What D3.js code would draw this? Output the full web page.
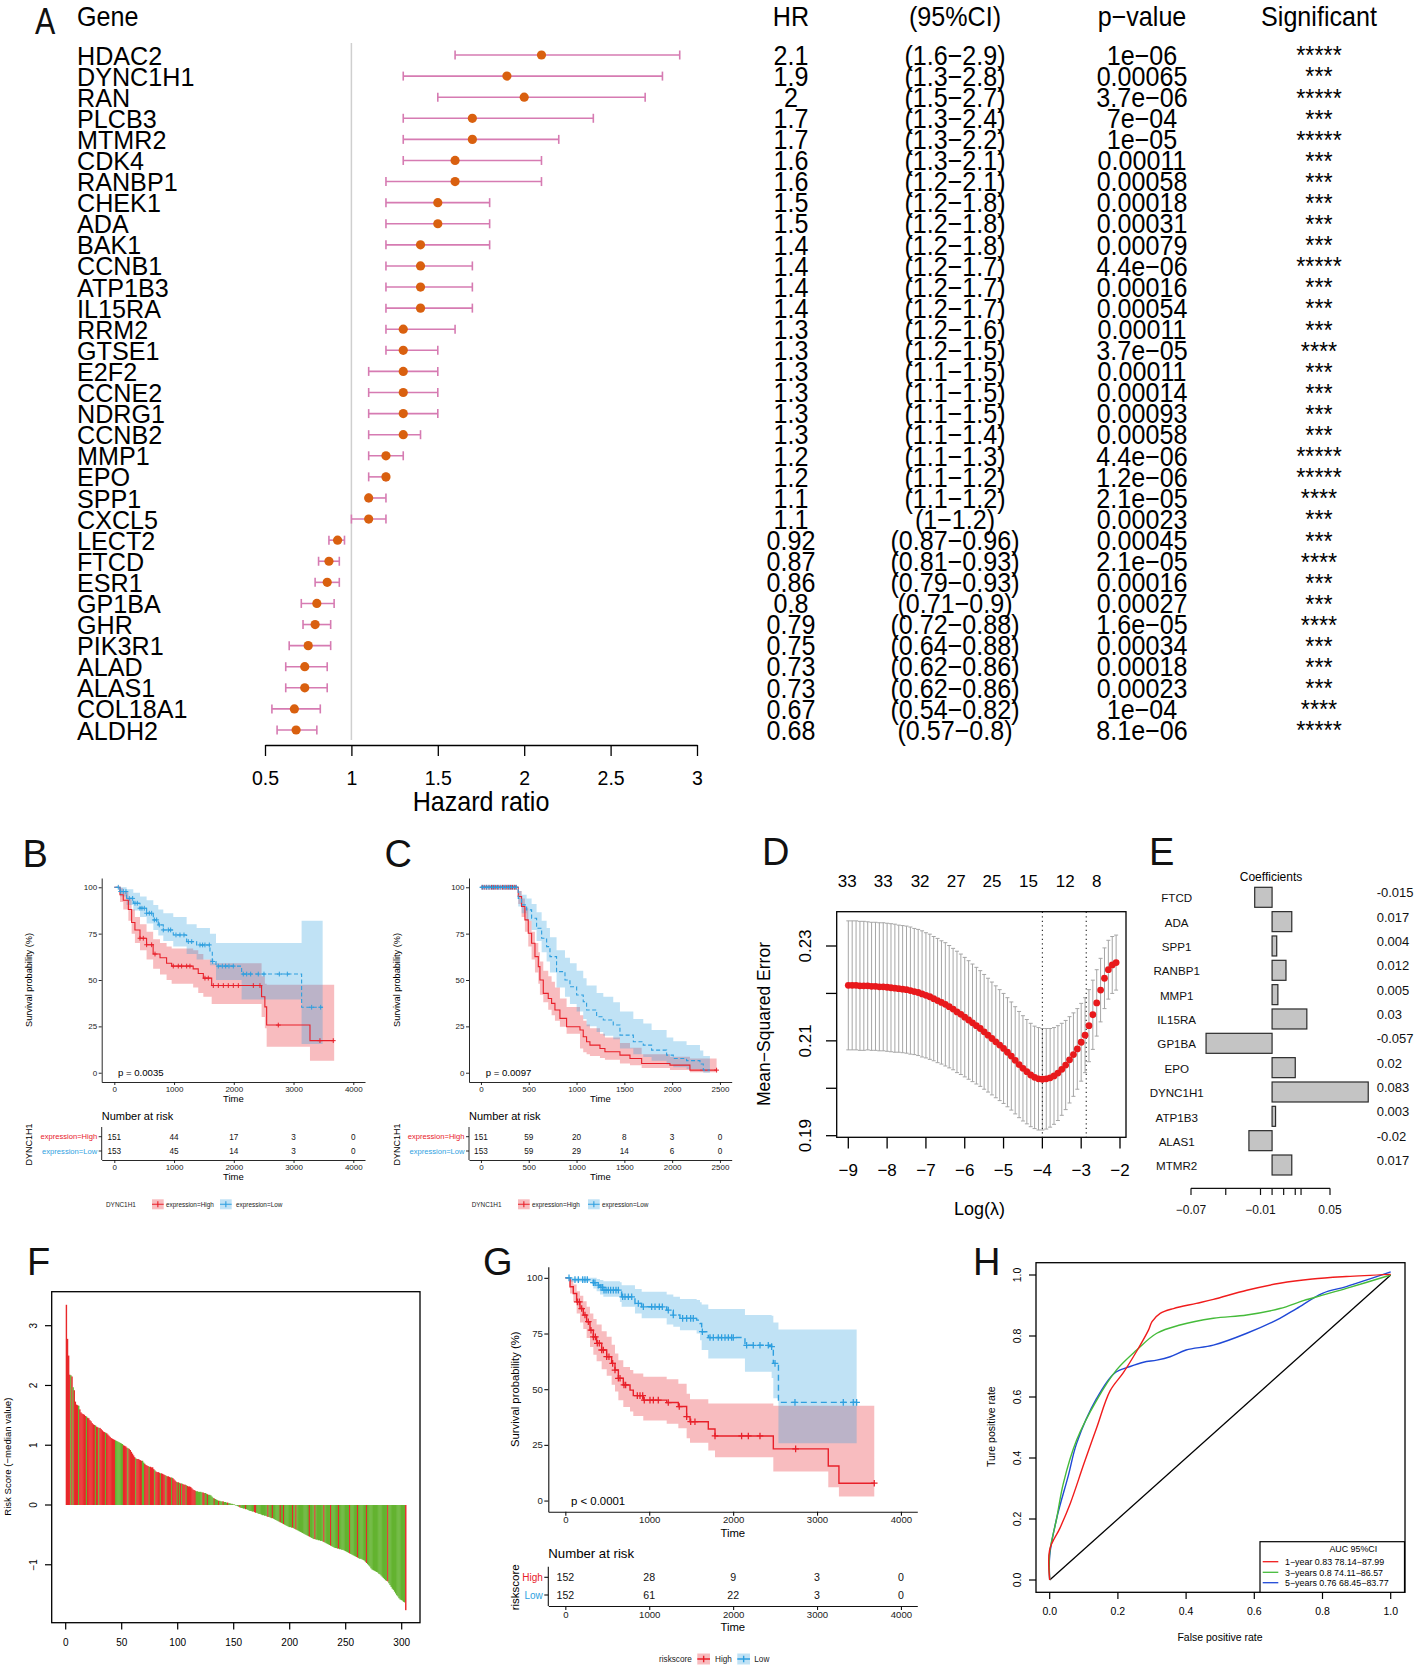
<!DOCTYPE html>
<html><head><meta charset="utf-8">
<script src="https://cdn.jsdelivr.net/npm/d3@7"></script>
<style>body{margin:0;background:#fff}svg{display:block}text{font-family:"Liberation Sans",Arial,Helvetica,sans-serif}</style>
</head><body><svg id="fig" width="1416" height="1669"></svg>
<script>
// ---------------- DATA ----------------
// Panel A (forest plot)
const genes=["HDAC2","DYNC1H1","RAN","PLCB3","MTMR2","CDK4","RANBP1","CHEK1","ADA","BAK1","CCNB1","ATP1B3","IL15RA","RRM2","GTSE1","E2F2","CCNE2","NDRG1","CCNB2","MMP1","EPO","SPP1","CXCL5","LECT2","FTCD","ESR1","GP1BA","GHR","PIK3R1","ALAD","ALAS1","COL18A1","ALDH2"];
const hr=[2.1,1.9,2,1.7,1.7,1.6,1.6,1.5,1.5,1.4,1.4,1.4,1.4,1.3,1.3,1.3,1.3,1.3,1.3,1.2,1.2,1.1,1.1,0.92,0.87,0.86,0.8,0.79,0.75,0.73,0.73,0.67,0.68];
const hrLow=[1.6,1.3,1.5,1.3,1.3,1.3,1.2,1.2,1.2,1.2,1.2,1.2,1.2,1.2,1.2,1.1,1.1,1.1,1.1,1.1,1.1,1.1,1,0.87,0.81,0.79,0.71,0.72,0.64,0.62,0.62,0.54,0.57];
const hrHigh=[2.9,2.8,2.7,2.4,2.2,2.1,2.1,1.8,1.8,1.8,1.7,1.7,1.7,1.6,1.5,1.5,1.5,1.5,1.4,1.3,1.2,1.2,1.2,0.96,0.93,0.93,0.9,0.88,0.88,0.86,0.86,0.82,0.8];
const pvals=["1e−06","0.00065","3.7e−06","7e−04","1e−05","0.00011","0.00058","0.00018","0.00031","0.00079","4.4e−06","0.00016","0.00054","0.00011","3.7e−05","0.00011","0.00014","0.00093","0.00058","4.4e−06","1.2e−06","2.1e−05","0.00023","0.00045","2.1e−05","0.00016","0.00027","1.6e−05","0.00034","0.00018","0.00023","1e−04","8.1e−06"];
const sig=["*****","***","*****","***","*****","***","***","***","***","***","*****","***","***","***","****","***","***","***","***","*****","*****","****","***","***","****","***","***","****","***","***","***","****","*****"];
const forestTicks=[0.5,1,1.5,2,2.5,3];

// Panel B (KM, DYNC1H1 in cohort 1)
const bHighSteps=[[0,100],[95,96],[150,93],[235,88],[290,81],[345,77],[430,72.5],[540,69],[650,64],[765,62],[875,59],[960,57.5],[1320,56],[1405,53.5],[1490,51],[1630,47],[2465,41],[2520,35.5],[2550,25.7],[3275,17.3]];
const bHighEnd=3680;
const bHighCI=[[0,100,100],[95,92,99.5],[150,88,97.5],[235,82,94],[290,75,88],[345,70,84],[430,66,80],[540,61,76],[650,56,72],[765,53,70],[875,50,68],[960,48,67],[1320,46,66],[1405,43,64],[1490,41,61],[1630,37,59],[2465,30,52],[2520,24,48],[2550,14,47.5],[3275,6.5,47.5]];
const bHighCens=[430,485,541,625,681,987,1071,1127,1211,1266,1517,1573,1657,1741,1825,1908,1992,2076,2327,2438,2745,3442,3665];
const bLowSteps=[[0,100],[95,97.7],[206,94],[318,91.4],[430,88.7],[541,86],[653,82.4],[736,79.7],[820,77],[987,74.3],[1211,70.7],[1378,68.9],[1601,65.3],[1640,60],[1702,57.5],[2131,53.2],[3135,35.3]];
const bLowEnd=3487;
const bLowCI=[[0,100,100],[95,95,100],[206,90.5,99],[318,87.5,97],[430,84,95],[541,80.5,93],[653,77,90.5],[736,74,88],[820,71,86],[987,68,84],[1211,64,80],[1378,61,78],[1601,58,75],[1702,50,70],[2131,39.5,70],[3135,15.5,82]];
const bLowCens=[67,106,151,195,251,307,346,385,430,463,502,541,586,625,670,709,753,820,904,943,1032,1099,1166,1239,1295,1434,1478,1517,1590,1646,1741,1808,1863,1919,1992,2159,2215,2282,2410,2505,2762,2896,3303,3454];
const bRiskTimes=[0,1000,2000,3000,4000];
const bRiskHigh=[151,44,17,3,0];
const bRiskLow=[153,45,14,3,0];

// Panel C (KM, DYNC1H1 in cohort 2)
const cHighSteps=[[0,100],[390,95],[425,89.6],[460,82.4],[495,75.2],[530,69.8],[565,62.6],[600,57.2],[617,50],[652,42.8],[704,40],[739,37.4],[774,33.8],[826,29.3],[896,24.8],[1036,23],[1070,19.4],[1105,16.7],[1140,14.9],[1245,13.1],[1297,11.3],[1454,9.5],[1559,7.7],[1681,5],[1977,4.1],[2186,1.4]];
const cHighEnd=2465;
const cHighCI=[[0,100,100],[390,91,98],[425,84,94],[460,76,89],[495,68,82],[530,61,76],[565,54,70],[600,48,65],[617,42,60],[652,38,55],[704,34,52],[739,31,49],[774,28,46],[826,24.8,40],[896,21,35.5],[1036,13,31],[1070,11,28],[1105,10,26],[1140,9,24],[1245,8,21],[1297,7,19],[1454,5,16],[1559,4,13.5],[1681,2.5,10],[1977,1.5,8.6],[2186,0.3,7.7]];
const cHighCens=[15,40,60,85,110,130,150,175,200,225,250,270,290,310,330,350,365,2465];
const cLowSteps=[[0,100],[390,94],[425,90.5],[478,87.8],[530,83.3],[582,77.9],[635,72.5],[687,68],[722,62.6],[791,54.5],[879,50],[931,46.4],[1001,41.9],[1070,38.3],[1105,33.8],[1210,30.2],[1280,28.4],[1384,25.7],[1454,20.3],[1594,16.7],[1698,14.9],[1785,12.2],[1942,9.5],[2012,7.7],[2151,6.5],[2291,4.7],[2326,1.4]];
const cLowEnd=2395;
const cLowCI=[[0,100,100],[390,89.6,98],[425,86,96],[478,82,94],[530,77,91],[582,71,86.5],[635,65,82],[687,60,78],[722,54,73],[791,46,66],[879,41,62],[931,37,59],[1001,33,55],[1070,29,51],[1105,25,47],[1210,22,43],[1280,20,41],[1384,18,38],[1454,13,33],[1594,10,29],[1698,8.5,26.5],[1785,6.5,23],[1942,4.5,19],[2012,3,17],[2151,2,15],[2291,0.8,12],[2326,0,9]];
const cLowCens=[10,30,55,75,95,120,140,165,185,210,235,255,280,300,320,345,370];
const cRiskTimes=[0,500,1000,1500,2000,2500];
const cRiskHigh=[151,59,20,8,3,0];
const cRiskLow=[153,59,29,14,6,0];

// Panel D (LASSO CV)
const lambdaD=[-9.0,-8.9,-8.8,-8.7,-8.6,-8.5,-8.4,-8.3,-8.2,-8.1,-8.0,-7.9,-7.8,-7.7,-7.6,-7.5,-7.4,-7.3,-7.2,-7.1,-7.0,-6.9,-6.8,-6.7,-6.6,-6.5,-6.4,-6.3,-6.2,-6.1,-6.0,-5.9,-5.8,-5.7,-5.6,-5.5,-5.4,-5.3,-5.2,-5.1,-5.0,-4.9,-4.8,-4.7,-4.6,-4.5,-4.4,-4.3,-4.2,-4.1,-4.0,-3.9,-3.8,-3.7,-3.6,-3.5,-3.4,-3.3,-3.2,-3.1,-3.0,-2.9,-2.8,-2.7,-2.6,-2.5,-2.4,-2.3,-2.2,-2.1];
const mseD=[.2217,.2217,.2217,.2216,.2216,.2216,.2215,.2215,.2214,.2214,.2213,.2212,.2211,.2210,.2209,.2208,.2206,.2204,.2202,.2199,.2196,.2193,.2189,.2185,.2181,.2177,.2172,.2167,.2161,.2156,.2150,.2144,.2138,.2132,.2126,.2119,.2112,.2105,.2098,.2091,.2084,.2076,.2068,.2059,.2050,.2042,.2035,.2028,.2023,.2020,.2019,.2020,.2022,.2026,.2032,.2040,.2049,.2060,.2071,.2083,.2097,.2112,.2132,.2155,.2180,.2207,.2232,.2250,.2260,.2265];
const seD=[.0136,.0136,.0136,.0136,.0136,.0135,.0135,.0135,.0135,.0135,.0135,.0135,.0135,.0134,.0134,.0134,.0134,.0133,.0133,.0133,.0132,.0132,.0131,.0131,.0130,.0130,.0129,.0128,.0128,.0127,.0126,.0125,.0124,.0123,.0122,.0121,.0120,.0119,.0118,.0117,.0116,.0115,.0114,.0113,.0112,.0111,.0110,.0109,.0108,.0108,.0107,.0106,.0104,.0102,.0100,.0097,.0094,.0091,.0088,.0085,.0082,.0079,.0076,.0073,.0070,.0067,.0064,.0062,.0060,.0058];
const dTopLambda=[-9.03,-8.1,-7.15,-6.22,-5.3,-4.36,-3.41,-2.6];
const dTopCount=["33","33","32","27","25","15","12","8"];
const dSelLambda=[-4,-2.87];
const dXTicks=[-9,-8,-7,-6,-5,-4,-3,-2];
const dYTicks=[0.19,0.20,0.21,0.22,0.23];
const dYLabels=[0.19,0.21,0.23];

// Panel E (coefficients)
const eGenes=["FTCD","ADA","SPP1","RANBP1","MMP1","IL15RA","GP1BA","EPO","DYNC1H1","ATP1B3","ALAS1","MTMR2"];
const eCoef=[-0.015,0.017,0.004,0.012,0.005,0.03,-0.057,0.02,0.083,0.003,-0.02,0.017];
const eTicks=[-0.07,-0.04,-0.01,0,0.01,0.02,0.025,0.05];
const eTickLabels=[-0.07,-0.01,0.05];

// Panel F (risk score distribution, sorted)
const fVals=[3.35,2.78,2.50,2.18,2.17,2.15,1.97,1.92,1.73,1.68,
1.67,1.66,1.60,1.55,1.53,1.52,1.51,1.49,1.48,1.46,
1.45,1.42,1.40,1.37,1.35,1.34,1.33,1.31,1.30,1.29,
1.29,1.27,1.25,1.23,1.22,1.21,1.20,1.18,1.16,1.14,
1.12,1.11,1.10,1.09,1.08,1.07,1.06,1.05,1.04,1.03,
1.02,1.00,0.99,0.98,0.96,0.95,0.94,0.92,0.89,0.86,
0.83,0.80,0.78,0.77,0.77,0.76,0.75,0.74,0.74,0.71,
0.69,0.67,0.66,0.65,0.64,0.64,0.63,0.63,0.60,0.58,
0.56,0.55,0.55,0.54,0.53,0.53,0.52,0.51,0.50,0.49,
0.48,0.48,0.47,0.46,0.46,0.45,0.43,0.41,0.39,0.38,
0.38,0.37,0.36,0.36,0.35,0.34,0.34,0.33,0.32,0.31,
0.31,0.30,0.28,0.26,0.25,0.24,0.23,0.23,0.22,0.22,
0.22,0.21,0.21,0.20,0.20,0.19,0.18,0.17,0.17,0.16,
0.14,0.12,0.11,0.10,0.09,0.08,0.07,0.07,0.06,0.06,
0.06,0.05,0.05,0.04,0.04,0.03,0.03,0.02,0.02,0.01,
0.01,0.00,-0.01,-0.02,-0.03,-0.04,-0.05,-0.05,-0.06,-0.06,
-0.07,-0.07,-0.08,-0.09,-0.10,-0.10,-0.11,-0.11,-0.12,-0.13,
-0.13,-0.14,-0.15,-0.15,-0.16,-0.17,-0.17,-0.18,-0.18,-0.19,
-0.20,-0.20,-0.21,-0.22,-0.22,-0.23,-0.24,-0.25,-0.26,-0.27,
-0.28,-0.29,-0.30,-0.31,-0.32,-0.33,-0.34,-0.35,-0.36,-0.37,
-0.37,-0.38,-0.38,-0.39,-0.40,-0.41,-0.42,-0.43,-0.44,-0.45,
-0.46,-0.47,-0.48,-0.49,-0.50,-0.51,-0.52,-0.53,-0.54,-0.55,
-0.56,-0.57,-0.57,-0.58,-0.58,-0.59,-0.59,-0.60,-0.60,-0.61,
-0.62,-0.63,-0.64,-0.65,-0.66,-0.67,-0.68,-0.69,-0.70,-0.71,
-0.72,-0.72,-0.73,-0.73,-0.74,-0.74,-0.75,-0.75,-0.76,-0.77,
-0.78,-0.79,-0.80,-0.81,-0.82,-0.83,-0.84,-0.85,-0.86,-0.87,
-0.88,-0.89,-0.90,-0.90,-0.91,-0.92,-0.93,-0.95,-0.97,-0.99,
-1.01,-1.03,-1.06,-1.08,-1.09,-1.10,-1.11,-1.12,-1.13,-1.15,
-1.16,-1.18,-1.20,-1.22,-1.24,-1.26,-1.27,-1.28,-1.31,-1.34,
-1.37,-1.40,-1.42,-1.45,-1.48,-1.51,-1.53,-1.56,-1.58,-1.59,
-1.60,-1.62,-1.63,-1.76];
// 1 = red (event), 0 = green, one char per bar
const fStatus=("1111010111 1011111101 1111110110 1111101111 1111000000 0111101111 1101111100 1111011110 1111011110 1111011110 "+
"1010111011 1111110000 0011001000 0010001000 1000100000 0000010000 1000000011 0000000000 1000100000 0100100000 "+
"0010010000 0000000100 0010000000 1000001000 0001000000 0001000000 1000000010 0000000000 0000000100 0000000000 0001").replace(/ /g,"");
const fXTicks=[0,50,100,150,200,250,300];
const fYTicks=[-1,0,1,2,3];

// Panel G (KM, risk score)
const gHighSteps=[[0,100],[56,96],[95,93],[135,89.2],[175,86.2],[214,83.3],[254,80.3],[294,76.5],[334,73.5],[373,70.6],[433,67.6],[493,64.6],[552,61.6],[592,58.6],[632,54.9],[691,51.9],[771,49.6],[810,47.1],[929,45.1],[1208,44],[1347,42.2],[1446,37.7],[1486,35.4],[1704,32.1],[1784,29],[2479,23.2],[3134,15.5],[3261,7.8]];
const gHighEnd=3682;
const gHighCI=[[0,100,100],[56,93,99],[95,89,97],[135,84,94],[175,80,92],[214,77,89.5],[254,73,87],[294,69,84],[334,65.5,81.5],[373,62.5,79],[433,59,76],[493,56,73.5],[552,52,70],[592,49,66],[632,45,63],[691,42,60],[771,40,58.6],[810,38,57],[929,36,55.6],[1208,34.5,54.5],[1347,32.5,52.5],[1446,28,48],[1486,26,45.5],[1704,22.5,43.6],[1784,19.4,43.6],[2479,13,42.6],[3134,6,42.6],[3261,1.8,42.6]];
const gHighCens=[143,167,195,234,274,306,334,358,381,405,433,453,493,520,564,592,632,652,699,719,858,890,922,941,1009,1049,1108,1227,1358,1446,1494,1545,1784,2101,2181,2320,2745,3682];
const gLowSteps=[[0,100],[56,99.2],[334,97.8],[373,96.7],[413,95.7],[453,94.5],[651,93.7],[671,91.5],[830,88.5],[910,87],[1208,85.5],[1287,83.3],[1366,81.8],[1565,81],[1605,79.5],[1625,75.8],[1704,73.2],[2141,69.7],[2459,69.1],[2479,61.6],[2540,44.1]];
const gLowEnd=3472;
const gLowCI=[[0,100,100],[56,98.2,100],[334,95.2,100],[373,94,99.5],[413,92.5,99],[453,91.5,98.5],[651,89.2,98],[671,87,96.7],[830,84,95],[910,81.8,93.7],[1208,79,92.5],[1287,78,91.5],[1366,76.5,90.5],[1565,75,90],[1605,72,89],[1625,67.6,88],[1704,63.8,86],[2141,57.8,83.3],[2459,55,83],[2479,45.9,80],[2540,25.7,76.8]];
const gLowCens=[44,115,155,207,234,262,334,353,393,425,445,461,485,512,540,572,604,632,683,711,751,791,870,930,1029,1069,1120,1156,1227,1287,1398,1446,1494,1525,1633,1724,1764,1823,1863,1903,1943,1982,2002,2161,2240,2320,2419,2459,2499,2737,3313,3432,3472];
const gRiskTimes=[0,1000,2000,3000,4000];
const gRiskHigh=[152,28,9,3,0];
const gRiskLow=[152,61,22,3,0];

// Panel H (time-dependent ROC)
const rocRed=[[0,0],[0,0.1],[0.03,0.17],[0.06,0.25],[0.1,0.38],[0.138,0.5],[0.177,0.62],[0.216,0.68],[0.255,0.75],[0.29,0.82],[0.3,0.847],[0.324,0.874],[0.363,0.89],[0.43,0.907],[0.48,0.92],[0.578,0.95],[0.675,0.973],[0.77,0.987],[0.87,0.995],[1,1.002]];
const rocGreen=[[0,0],[0,0.09],[0.02,0.2],[0.04,0.317],[0.079,0.459],[0.138,0.59],[0.196,0.689],[0.255,0.754],[0.314,0.809],[0.382,0.836],[0.48,0.858],[0.578,0.869],[0.675,0.89],[0.744,0.916],[0.8,0.934],[0.87,0.956],[1,1]];
const rocBlue=[[0,0],[0,0.08],[0.02,0.2],[0.055,0.344],[0.079,0.448],[0.138,0.596],[0.19,0.678],[0.236,0.7],[0.275,0.714],[0.314,0.721],[0.353,0.732],[0.4,0.754],[0.48,0.77],[0.578,0.809],[0.675,0.858],[0.724,0.89],[0.8,0.94],[0.87,0.962],[1,1.01]];
const rocLabels=["1−year 0.83 78.14−87.99","3−years 0.8 74.11−86.57","5−years 0.76 68.45−83.77"];
const hTicks=[0,0.2,0.4,0.6,0.8,1];

// ---------------- DRAWING ----------------
const FONT='"Liberation Sans", Arial, Helvetica, sans-serif';
const svg=d3.select("#fig");
svg.append("rect").attr("width",1416).attr("height",1669).attr("fill","#fff");
const colHigh="#E8202A", colLow="#2E9FDF";

function T(g,x,y,s,size,anchor,fill){return g.append("text").attr("x",x).attr("y",y).attr("font-size",size).attr("text-anchor",anchor||"start").attr("fill",fill||"#000").text(s);}
function CT(g,x,cy,s,size,anchor,fill){return T(g,x,cy+0.36*size,s,size,anchor,fill);}
function RT(g,cx,cy,s,size,fill){return g.append("text").attr("transform",`translate(${cx+0.36*size},${cy}) rotate(-90)`).attr("text-anchor","middle").attr("font-size",size).attr("fill",fill||"#000").text(s);}
function NT(g,x,cy,s,size,anchor,sx){return g.append("text").attr("transform",`translate(${x},${cy+0.36*size}) scale(${sx||0.93},1)`).attr("text-anchor",anchor||"start").attr("font-size",size).attr("fill","#000").text(s);}
function letter(x,base,s){svg.append("text").attr("x",x).attr("y",base).attr("font-family","'Open Sans', sans-serif").attr("font-size",38).attr("fill","#111").text(s);}

// ===== Panel A =====
(function(){
  const g=svg.append("g");
  g.append("text").attr("transform","translate(35,34) scale(0.95,1.15)").attr("font-size",32).attr("fill","#111").text("A");
  const fx=d3.scaleLinear().domain([0.5,3]).range([265,697]);
  const fy=d3.scalePoint().domain(genes).range([55,730]);
  NT(g,77,16,"Gene",27,"start");
  NT(g,791,16,"HR",27,"middle");
  NT(g,955,16,"(95%CI)",27,"middle");
  NT(g,1142,16,"p−value",27,"middle");
  NT(g,1319,16,"Significant",27,"middle");
  g.append("line").attr("x1",fx(1)).attr("x2",fx(1)).attr("y1",43).attr("y2",740).attr("stroke","#cfcfcf").attr("stroke-width",1.5);
  genes.forEach((gn,i)=>{
    const yy=fy(gn);
    g.append("line").attr("x1",fx(hrLow[i])).attr("x2",fx(hrHigh[i])).attr("y1",yy).attr("y2",yy).attr("stroke","#D67BB2").attr("stroke-width",1.6);
    [hrLow[i],hrHigh[i]].forEach(v=>g.append("line").attr("x1",fx(v)).attr("x2",fx(v)).attr("y1",yy-4.5).attr("y2",yy+4.5).attr("stroke","#D67BB2").attr("stroke-width",1.6));
    g.append("circle").attr("cx",fx(hr[i])).attr("cy",yy).attr("r",4.6).attr("fill","#D9600F");
    NT(g,77,yy,gn,26.5,"start",0.95);
    NT(g,791,yy,String(hr[i]),27,"middle");
    NT(g,955,yy,`(${hrLow[i]}−${hrHigh[i]})`,27,"middle");
    NT(g,1142,yy,pvals[i],27,"middle");
    NT(g,1319,yy,sig[i],26,"middle",0.9);
  });
  const ax=g.append("g").attr("transform","translate(0,745)")
    .call(d3.axisBottom(fx).tickValues(forestTicks).tickSize(11).tickSizeOuter(0).tickPadding(14).tickFormat(d=>String(d)));
  ax.select(".domain").attr("stroke","#000").attr("stroke-width",1.3);
  ax.selectAll(".tick line").attr("stroke","#000").attr("stroke-width",1.3);
  ax.selectAll(".tick text").attr("font-size",21).attr("font-family",FONT).attr("fill","#000").attr("transform","scale(0.93,1)");
  NT(g,481,801,"Hazard ratio",27,"middle");
})();

// ===== KM helper =====
function survAt(steps,t){let s=steps[0][1];for(const d of steps){if(d[0]<=t)s=d[1];else break;}return s;}
function styleAxis(a,size,sw){
  a.attr("font-family",FONT);
  a.select(".domain").attr("stroke","#111").attr("stroke-width",sw);
  a.selectAll(".tick line").attr("stroke","#111").attr("stroke-width",sw);
  a.selectAll(".tick text").attr("font-size",size).attr("fill","#222").attr("font-family",FONT);
}
function drawKM(p){
  const g=svg.append("g");
  const x=d3.scaleLinear().domain(p.xDom).range([p.x0,p.x1]);
  const y=d3.scaleLinear().domain([-5,105]).range([p.yb,p.yt]);
  const grs=[{d:p.hi,col:colHigh,dash:null},{d:p.lo,col:colLow,dash:p.dash}];
  grs.forEach(gr=>{
    const ci=gr.d.ci, last=ci[ci.length-1];
    const pts=ci.concat([[gr.d.end,last[1],last[2]]]);
    g.append("path").datum(pts).attr("d",d3.area().curve(d3.curveStepAfter).x(d=>x(d[0])).y0(d=>y(d[1])).y1(d=>y(d[2])))
      .attr("fill",gr.col).attr("fill-opacity",0.3).attr("stroke","none");
  });
  grs.forEach(gr=>{
    const st=gr.d.steps, last=st[st.length-1];
    const pts=st.concat([[gr.d.end,last[1]]]);
    g.append("path").datum(pts).attr("d",d3.line().curve(d3.curveStepAfter).x(d=>x(d[0])).y(d=>y(d[1])))
      .attr("fill","none").attr("stroke",gr.col).attr("stroke-width",p.lw).attr("stroke-dasharray",gr.dash);
    gr.d.cens.forEach(t=>{
      const s=survAt(st,t), cx=x(t), cy=y(s);
      g.append("path").attr("d",`M${cx-p.cs},${cy}H${cx+p.cs}M${cx},${cy-p.cs}V${cy+p.cs}`).attr("stroke",gr.col).attr("stroke-width",p.lw*0.9);
    });
  });
  const ax=g.append("g").attr("transform",`translate(0,${p.yb})`).call(d3.axisBottom(x).tickValues(p.xticks).tickSize(p.ts).tickSizeOuter(0).tickPadding(p.tp).tickFormat(d3.format("d")));
  styleAxis(ax,p.tf,p.sw);
  const ay=g.append("g").attr("transform",`translate(${p.x0},0)`).call(d3.axisLeft(y).tickValues([0,25,50,75,100]).tickSize(p.ts).tickSizeOuter(0).tickPadding(1.5).tickFormat(d3.format("d")));
  styleAxis(ay,p.tf,p.sw);
  CT(g,(p.x0+p.x1)/2,p.timeY,"Time",p.timeF,"middle");
  RT(g,p.ylabX,(p.yb+p.yt)/2,"Survival probability (%)",p.ylabF);
  CT(g,p.pX,y(0),p.pText,p.pF,"start");
  CT(g,p.x0,p.narY,"Number at risk",p.narF,"start");
  const rt=g.append("g");
  const ar=rt.append("g").attr("transform",`translate(0,${p.rAxisY})`).call(d3.axisBottom(x).tickValues(p.rTimes).tickSize(p.ts).tickSizeOuter(0).tickPadding(p.tp).tickFormat(d3.format("d")));
  styleAxis(ar,p.tf,p.sw);
  rt.append("line").attr("x1",p.x0).attr("x2",p.x0).attr("y1",p.rTop).attr("y2",p.rAxisY).attr("stroke","#111").attr("stroke-width",p.sw);
  [[p.rHigh,p.rRows[0],colHigh,p.rLab[0]],[p.rLow,p.rRows[1],colLow,p.rLab[1]]].forEach(([vals,ry,col,lab])=>{
    rt.append("line").attr("x1",p.x0-p.ts).attr("x2",p.x0).attr("y1",ry).attr("y2",ry).attr("stroke","#111").attr("stroke-width",p.sw);
    CT(rt,p.x0-p.ts-1.5,ry,lab,p.rLabF,"end",col);
    vals.forEach((v,i)=>CT(rt,x(p.rTimes[i]),ry,String(v),p.rNumF,"middle","#111"));
  });
  CT(rt,(p.x0+p.x1)/2,p.rTimeY,"Time",p.timeF,"middle");
  RT(rt,p.ylabX,(p.rTop+p.rAxisY)/2+1,p.varName,p.varF);
  const lg=g.append("g");
  CT(lg,p.legTitleX,p.legY,p.varName,p.legF,"start","#222");
  [[p.legKeys[0],colHigh,p.legLab[0],p.legTextX[0]],[p.legKeys[1],colLow,p.legLab[1],p.legTextX[1]]].forEach(([kx,col,lab,tx])=>{
    lg.append("rect").attr("x",kx).attr("y",p.legY-p.keyH/2).attr("width",p.keyW).attr("height",p.keyH).attr("fill",col).attr("fill-opacity",0.3);
    lg.append("path").attr("d",`M${kx},${p.legY}H${kx+p.keyW}M${kx+p.keyW/2},${p.legY-p.keyH*0.3}V${p.legY+p.keyH*0.3}`).attr("stroke",col).attr("stroke-width",p.lw);
    CT(lg,tx,p.legY,lab,p.legF,"start","#222");
  });
}

// ===== Panel B =====
letter(22.5,867,"B");
drawKM({x0:101.7,x1:365,xDom:[-211,4196],yb:1082,yt:878,xticks:bRiskTimes,ts:3,tp:1,tf:8,sw:0.9,lw:1.1,cs:2.4,dash:"4,2.5",
  hi:{steps:bHighSteps,ci:bHighCI,cens:bHighCens,end:bHighEnd},lo:{steps:bLowSteps,ci:bLowCI,cens:bLowCens,end:bLowEnd},
  timeY:1099,timeF:9.5,ylabX:29,ylabF:9.2,pX:118,pText:"p = 0.0035",pF:9.6,narY:1116,narF:11,
  rAxisY:1160,rTop:1127,rTimes:bRiskTimes,rHigh:bRiskHigh,rLow:bRiskLow,rRows:[1136.7,1151],rLab:["expression=High","expression=Low"],rLabF:7.6,rNumF:8.2,rTimeY:1177,varName:"DYNC1H1",varF:9,
  legY:1204.3,legTitleX:106,legF:6.4,legKeys:[152,220],legTextX:[166,236],legLab:["expression=High","expression=Low"],keyW:11.7,keyH:10});

// ===== Panel C =====
letter(384.5,867,"C");
drawKM({x0:469,x1:731.7,xDom:[-125,2623],yb:1082,yt:878,xticks:cRiskTimes,ts:3,tp:1,tf:8,sw:0.9,lw:1.1,cs:2.4,dash:"4,2.5",
  hi:{steps:cHighSteps,ci:cHighCI,cens:cHighCens,end:cHighEnd},lo:{steps:cLowSteps,ci:cLowCI,cens:cLowCens,end:cLowEnd},
  timeY:1099,timeF:9.5,ylabX:396.7,ylabF:9.2,pX:485.7,pText:"p = 0.0097",pF:9.6,narY:1116,narF:11,
  rAxisY:1160,rTop:1127,rTimes:cRiskTimes,rHigh:cRiskHigh,rLow:cRiskLow,rRows:[1136.7,1151],rLab:["expression=High","expression=Low"],rLabF:7.6,rNumF:8.2,rTimeY:1177,varName:"DYNC1H1",varF:9,
  legY:1204.3,legTitleX:471.7,legF:6.4,legKeys:[518,588],legTextX:[532,602],legLab:["expression=High","expression=Low"],keyW:11.7,keyH:10});

// ===== Panel G =====
letter(483,1275,"G");
drawKM({x0:548.3,x1:917.3,xDom:[-203,4195],yb:1511.7,yt:1266.7,xticks:gRiskTimes,ts:4,tp:0.8,tf:9.6,sw:1.1,lw:1.4,cs:3.3,dash:"6,4",
  hi:{steps:gHighSteps,ci:gHighCI,cens:gHighCens,end:gHighEnd},lo:{steps:gLowSteps,ci:gLowCI,cens:gLowCens,end:gLowEnd},
  timeY:1532.7,timeF:11.3,ylabX:515,ylabF:11.3,pX:571,pText:"p < 0.0001",pF:11.4,narY:1553.3,narF:13.2,
  rAxisY:1606,rTop:1566.7,rTimes:gRiskTimes,rHigh:gRiskHigh,rLow:gRiskLow,rRows:[1577.3,1595],rLab:["High","Low"],rLabF:10,rNumF:10.6,rTimeY:1626.7,varName:"riskscore",varF:11.5,
  legY:1659,legTitleX:659,legF:8.2,legKeys:[697.3,737.3],legTextX:[715,754.3],legLab:["High","Low"],keyW:12.7,keyH:11});

// ===== Panel D =====
letter(762,865,"D");
(function(){
  const g=svg.append("g");
  const dx=d3.scaleLinear().domain([-9,-2]).range([848.3,1120]);
  const dy=d3.scaleLinear().domain([0.19,0.23]).range([1135.7,946]);
  lambdaD.forEach((l,i)=>{
    const x=dx(l), y1=dy(mseD[i]-seD[i]), y2=dy(mseD[i]+seD[i]);
    g.append("path").attr("d",`M${x},${y1}V${y2}M${x-2},${y1}H${x+2}M${x-2},${y2}H${x+2}`).attr("stroke","#a6a6a6").attr("stroke-width",1).attr("fill","none");
  });
  dSelLambda.forEach(v=>g.append("line").attr("x1",dx(v)).attr("x2",dx(v)).attr("y1",911.7).attr("y2",1137.3).attr("stroke","#222").attr("stroke-width",1.1).attr("stroke-dasharray","1.3,3.2"));
  lambdaD.forEach((l,i)=>g.append("circle").attr("cx",dx(l)).attr("cy",dy(mseD[i])).attr("r",3.4).attr("fill","#E8191C"));
  g.append("rect").attr("x",836.7).attr("y",911.7).attr("width",289.3).attr("height",225.6).attr("fill","none").attr("stroke","#000").attr("stroke-width",1.3);
  dXTicks.forEach(v=>{
    g.append("line").attr("x1",dx(v)).attr("x2",dx(v)).attr("y1",1137.3).attr("y2",1148.5).attr("stroke","#000").attr("stroke-width",1.3);
    CT(g,dx(v),1170,"−"+Math.abs(v),17,"middle");
  });
  dYTicks.forEach(v=>g.append("line").attr("x1",826).attr("x2",836.7).attr("y1",dy(v)).attr("y2",dy(v)).attr("stroke","#000").attr("stroke-width",1.3));
  dYLabels.forEach(v=>RT(g,805,dy(v),v.toFixed(2),17));
  dTopLambda.forEach((l,i)=>CT(g,dx(l),880.7,dTopCount[i],17,"middle"));
  RT(g,763.3,1024,"Mean−Squared Error",17.5);
  CT(g,979.5,1208.5,"Log(λ)",18,"middle");
})();

// ===== Panel E =====
letter(1149,865,"E");
(function(){
  const g=svg.append("g");
  const ex=d3.scaleLinear().domain([-0.07,0.05]).range([1191,1330]);
  const ey=d3.scalePoint().domain(eGenes).range([898.3,1166]);
  CT(g,1271,876.7,"Coefficients",12,"middle");
  eGenes.forEach((gn,i)=>{
    const c=eCoef[i], yy=ey(gn);
    g.append("rect").attr("x",ex(Math.min(0,c))).attr("width",Math.abs(ex(c)-ex(0))).attr("y",yy-11).attr("height",20)
      .attr("fill","#c4c4c4").attr("stroke","#2b2b2b").attr("stroke-width",1.2);
    CT(g,1176.7,yy,gn,11.6,"middle","#111");
    CT(g,1376.7,yy-5.6,String(c),13,"start","#111");
  });
  g.append("line").attr("x1",ex(-0.07)).attr("x2",ex(0.05)).attr("y1",1188.3).attr("y2",1188.3).attr("stroke","#111").attr("stroke-width",1.2);
  eTicks.forEach(v=>g.append("line").attr("x1",ex(v)).attr("x2",ex(v)).attr("y1",1188.3).attr("y2",1195).attr("stroke","#111").attr("stroke-width",1.2));
  eTickLabels.forEach(v=>CT(g,ex(v),1210,(v<0?"−":"")+Math.abs(v),12,"middle","#111"));
})();

// ===== Panel F =====
letter(27,1275,"F");
(function(){
  const g=svg.append("g");
  const fxs=d3.scaleLinear().domain([0,300]).range([65.7,401.7]);
  const fys=d3.scaleLinear().domain([0,3]).range([1505,1325.7]);
  fVals.forEach((v,i)=>{
    const red=fStatus[i]==="1";
    g.append("rect").attr("x",fxs(i)).attr("width",fxs(i+1)-fxs(i)+0.3)
      .attr("y",fys(Math.max(v,0))).attr("height",Math.max(0.5,Math.abs(fys(v)-fys(0))))
      .attr("fill",red?"#E8282A":"#63B330");
  });
  g.append("rect").attr("x",51.7).attr("y",1291.7).attr("width",368.3).attr("height",331).attr("fill","none").attr("stroke","#000").attr("stroke-width",1.3);
  fYTicks.forEach(v=>{
    g.append("line").attr("x1",45).attr("x2",51.7).attr("y1",fys(v)).attr("y2",fys(v)).attr("stroke","#000").attr("stroke-width",1.2);
    RT(g,33.3,fys(v),(v<0?"−":"")+Math.abs(v),10);
  });
  fXTicks.forEach(v=>{
    g.append("line").attr("x1",fxs(v)).attr("x2",fxs(v)).attr("y1",1622.7).attr("y2",1629.5).attr("stroke","#000").attr("stroke-width",1.2);
    CT(g,fxs(v),1642.3,String(v),10,"middle");
  });
  RT(g,7.3,1456.7,"Risk Score (−median value)",9.6);
})();

// ===== Panel H =====
letter(973,1275,"H");
(function(){
  const g=svg.append("g");
  const hx=d3.scaleLinear().domain([0,1]).range([1049.7,1390.7]);
  const hy=d3.scaleLinear().domain([0,1]).range([1580,1275]);
  const line=d3.line().curve(d3.curveCatmullRom.alpha(0.5)).x(d=>hx(d[0])).y(d=>hy(d[1]));
  g.append("line").attr("x1",hx(0)).attr("y1",hy(0)).attr("x2",hx(1)).attr("y2",hy(1)).attr("stroke","#000").attr("stroke-width",1.3);
  [[rocBlue,"#1F48D6"],[rocGreen,"#45BB3A"],[rocRed,"#F01C1C"]].forEach(([d,c])=>g.append("path").datum(d).attr("d",line).attr("fill","none").attr("stroke",c).attr("stroke-width",1.4));
  g.append("rect").attr("x",1036).attr("y",1262.7).attr("width",369).attr("height",329.6).attr("fill","none").attr("stroke","#000").attr("stroke-width",1.3);
  hTicks.forEach(v=>{
    g.append("line").attr("x1",hx(v)).attr("x2",hx(v)).attr("y1",1592.3).attr("y2",1599).attr("stroke","#000").attr("stroke-width",1.2);
    CT(g,hx(v),1611.7,v.toFixed(1),10.5,"middle");
    g.append("line").attr("x1",1029).attr("x2",1036).attr("y1",hy(v)).attr("y2",hy(v)).attr("stroke","#000").attr("stroke-width",1.2);
    RT(g,1017.3,hy(v),v.toFixed(1),10.5);
  });
  CT(g,1220,1637.3,"False positive rate",10.5,"middle");
  RT(g,991.7,1426.7,"Ture positive rate",10.5);
  g.append("rect").attr("x",1260).attr("y",1541.7).attr("width",144.5).attr("height",50.6).attr("fill","#fff").attr("stroke","#000").attr("stroke-width",1.2);
  CT(g,1353.3,1549,"AUC 95%CI",8.9,"middle");
  [["#F01C1C",1561.7],["#45BB3A",1572.3],["#1F48D6",1582.7]].forEach(([c,yy],i)=>{
    g.append("line").attr("x1",1262.7).attr("x2",1278.3).attr("y1",yy).attr("y2",yy).attr("stroke",c).attr("stroke-width",1.3);
    CT(g,1285,yy,rocLabels[i],8.9,"start");
  });
})();
</script></body></html>
